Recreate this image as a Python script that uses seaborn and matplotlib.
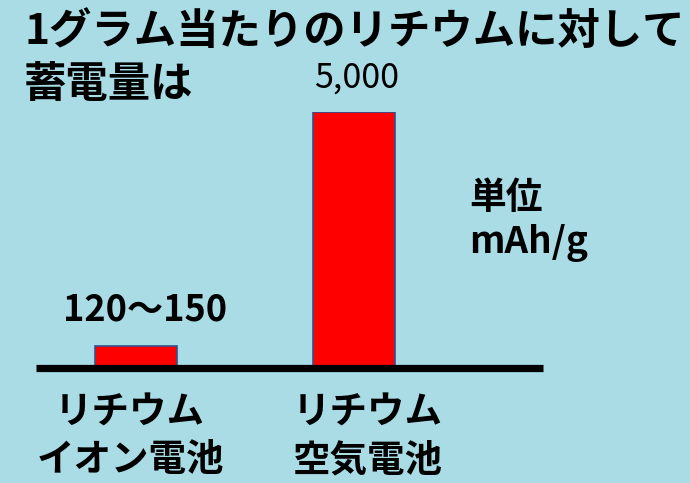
import matplotlib
matplotlib.use("Agg")
import matplotlib.pyplot as plt
import seaborn as sns
import pandas as pd

# Data
categories = ["リチウム\nイオン電池", "リチウム\n空気電池"]
drawn_heights = [420, 5000]          # bar heights as drawn in the picture
value_labels = ["120〜150", "5,000"]
title_lines = ["1グラム当たりのリチウムに対して", "蓄電量は"]
unit_lines = ["単位", "mAh/g"]

sns.set_theme(style="white")
plt.rcParams["font.family"] = ["Noto Sans CJK JP", "DejaVu Sans"]

W, H = 690, 483
fig = plt.figure(figsize=(6.9, 4.83), dpi=100)
bg = "#A9DCE5"
fig.patch.set_facecolor(bg)

def fx(px):
    return px / W

def fy(py):
    return 1 - py / H

ax = fig.add_axes([fx(36), fy(368), (543 - 36) / W, (368 - 112) / H])
ax.set_facecolor("none")

df = pd.DataFrame({"cat": categories, "val": drawn_heights})
sns.barplot(data=df, x="cat", y="val", color="#FF0000", saturation=1,
            edgecolor="#2F528F", linewidth=1.2, width=0.376, ax=ax)

ax.set_xlim(-0.459, 1.867)
ax.set_ylim(0, 5000)
for s in ax.spines.values():
    s.set_visible(False)
ax.set_xticks([])
ax.set_yticks([])
ax.set_xlabel("")
ax.set_ylabel("")
ax.axhline(0, color="black", linewidth=5.2, clip_on=False, zorder=5,
           solid_capstyle="butt")

# category labels (slightly offset from bars as in the reference)
cat_px = [130, 368]
for px, lab in zip(cat_px, categories):
    l1, l2 = lab.split("\n")
    fig.text(fx(px), fy(412), l1, ha="center", va="center", fontsize=27,
             fontweight="bold", color="black")
    fig.text(fx(px), fy(460), l2, ha="center", va="center", fontsize=27,
             fontweight="bold", color="black")

# value labels
fig.text(fx(63), fy(310), value_labels[0], ha="left", va="center",
         fontsize=26, fontweight="bold", color="black")
fig.text(fx(357), fy(78), value_labels[1], ha="center", va="center",
         fontsize=24.5, color="black")

# title
fig.text(fx(24), fy(32), title_lines[0], ha="left", va="center",
         fontsize=30.5, fontweight="bold", color="black")
fig.text(fx(24), fy(85), title_lines[1], ha="left", va="center",
         fontsize=30.5, fontweight="bold", color="black")

# unit
fig.text(fx(469), fy(198), unit_lines[0], ha="left", va="center",
         fontsize=26.5, fontweight="bold", color="black")
fig.text(fx(469), fy(243), unit_lines[1], ha="left", va="center",
         fontsize=26.5, fontweight="bold", color="black")

fig.savefig("out.png", dpi=100, facecolor=bg)
